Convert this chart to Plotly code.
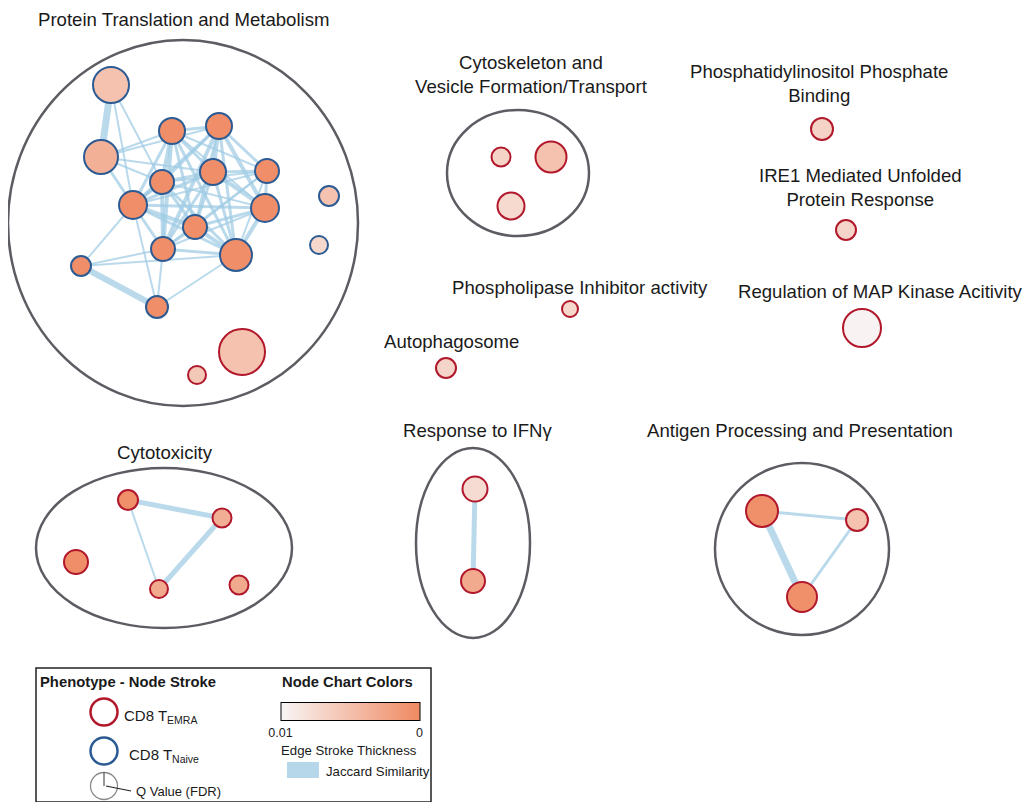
import plotly.graph_objects as go

FONT = "Liberation Sans, Arial, sans-serif"
EDGE_COLOR = "rgba(160,204,228,0.72)"
RED = "#b2182b"
BLUE = "#2c5b94"
OUTLINE = "#5e5c63"
PAGE_MARGIN = 8  # default body margin of the html page
W, H = 1030, 810

# ---------------- data ----------------
node_ids = ["A", "B", "C", "D", "E", "F", "G", "H", "I", "J", "K", "L", "M", "N", "O", "P", "Q", "R",
            "CS1", "CS2", "CS3", "PIP", "IRE1", "MAPK", "PLI", "AUTO",
            "CT1", "CT2", "CT3", "CT4", "CT5", "IF1", "IF2", "AG1", "AG2", "AG3"]
node_x = [111, 101, 172, 219, 162, 213, 267, 133, 265, 195, 163, 236, 81, 157, 329, 319, 242, 197,
          501, 551, 511, 822, 846, 862, 570, 446,
          128, 222, 76, 159, 239, 475, 473, 762, 857, 802]
node_y = [85, 157, 131, 126, 182, 172, 171, 205, 208, 227, 249, 255, 266, 307, 196, 245, 352, 375,
          157, 157, 206, 129, 230, 328, 309, 368,
          500, 518, 562, 589, 585, 489, 581, 511, 520, 597]
node_size = [36, 34, 26, 26, 24, 26, 24, 28, 28, 24, 24, 32, 20, 22, 20, 18, 46, 18,
             19, 31, 27, 22, 20, 38, 16, 20,
             20, 19, 24, 18, 19, 25, 24, 32, 22, 30]
node_q = [0.0052, 0.0036, 0.0004, 0.0004, 0.0004, 0.0004, 0.0004, 0.0004, 0.0004, 0.0004, 0.0004, 0.0004,
          0.0004, 0.0004, 0.0052, 0.0072, 0.0052, 0.0058,
          0.0068, 0.0052, 0.0074, 0.0068, 0.0070, 0.0098, 0.0072, 0.0070,
          0.0006, 0.0034, 0.0004, 0.0030, 0.0030, 0.0076, 0.0030, 0.0006, 0.0052, 0.0006]
node_phenotype = ["Naive"] * 16 + ["EMRA"] * 20

edge_src = ["A", "A", "A", "B", "B", "B", "B", "B",
            "C", "C", "C", "C", "C", "C", "C", "C", "C",
            "D", "D", "D", "D", "D", "D", "D", "D",
            "E", "E", "E", "E", "E", "E", "E",
            "F", "F", "F", "F", "F", "F",
            "G", "G", "G", "G", "G",
            "H", "H", "H", "H", "H", "H", "H",
            "I", "I", "I", "J", "J", "K", "K", "K", "M", "M", "N",
            "CT1", "CT1", "CT2", "IF1", "AG1", "AG1", "AG2"]
edge_tgt = ["B", "E", "H", "C", "D", "E", "F", "H",
            "D", "E", "F", "H", "J", "K", "L", "I", "G",
            "F", "E", "G", "I", "H", "K", "J", "L",
            "F", "H", "J", "K", "L", "I", "G",
            "G", "H", "I", "J", "K", "L",
            "I", "H", "J", "L", "K",
            "I", "J", "K", "L", "M", "N", "E",
            "J", "L", "K", "K", "L", "L", "M", "N", "N", "L", "L",
            "CT2", "CT4", "CT4", "IF2", "AG2", "AG3", "AG3"]
edge_w = [7, 2, 2, 2, 2, 2, 2, 3,
          3, 4, 3, 3, 3, 4, 3, 2, 2,
          4, 3, 3, 4, 3, 4, 3, 3,
          3, 3, 3, 4, 3, 2, 2,
          3, 3, 4, 3, 3, 3,
          3, 2, 2, 2, 2,
          3, 4, 3, 3, 2, 2, 3,
          3, 4, 2, 3, 4, 3, 2, 2, 6, 2, 2,
          5, 2, 5, 5, 3, 7, 3]

cluster_cx = [183, 518, 164, 473, 802]
cluster_cy = [223, 173, 548, 543, 549]
cluster_rx = [175, 71, 128, 57, 87]
cluster_ry = [183, 63, 80, 95, 86]

label_text = ["Protein Translation and Metabolism", "Cytoskeleton and<br>Vesicle Formation/Transport",
              "Phosphatidylinositol Phosphate<br>Binding", "IRE1 Mediated Unfolded<br>Protein Response",
              "Phospholipase Inhibitor activity", "Regulation of MAP Kinase Acitivity", "Autophagosome",
              "Response to IFNγ", "Antigen Processing and Presentation", "Cytotoxicity"]
label_x = [183, 531, 819, 860, 580, 880, 451, 478, 800, 165]
label_y = [19, 74, 83, 187, 287, 291, 341, 430, 430, 452]

q_ticks = [0.01, 0]

# ---------------- figure ----------------
fig = go.Figure()
pos = {n: (x, y) for n, x, y in zip(node_ids, node_x, node_y)}

for s, t, w in zip(edge_src, edge_tgt, edge_w):
    fig.add_trace(go.Scatter(x=[pos[s][0], pos[t][0]], y=[pos[s][1], pos[t][1]], mode="lines",
                             line=dict(color=EDGE_COLOR, width=w), hoverinfo="skip", showlegend=False))

for cx, cy, rx, ry in zip(cluster_cx, cluster_cy, cluster_rx, cluster_ry):
    fig.add_shape(type="circle", xref="x", yref="y", x0=cx - rx, x1=cx + rx, y0=cy - ry, y1=cy + ry,
                  line=dict(color=OUTLINE, width=2.5), layer="below")

fig_w = W - 2 * PAGE_MARGIN
fig_h = H - 2 * PAGE_MARGIN
cb_x = (350 - PAGE_MARGIN) / fig_w
cb_y = 1 - (719 - PAGE_MARGIN) / fig_h

stroke = [RED if p == "EMRA" else BLUE for p in node_phenotype]
fig.add_trace(go.Scatter(
    x=node_x, y=node_y, mode="markers", text=node_ids, showlegend=False,
    marker=dict(size=node_size, opacity=1, color=[-q for q in node_q], cmin=-0.01, cmax=0,
                colorscale=[[0, "#f8f5f5"], [1, "#ef8a62"]],
                line=dict(color=stroke, width=2),
                showscale=True,
                colorbar=dict(orientation="h", x=cb_x, xanchor="center", y=cb_y, yanchor="middle",
                              len=139, lenmode="pixels", thickness=18, thicknessmode="pixels",
                              outlinecolor="black", outlinewidth=1, xpad=0, ypad=0,
                              tickvals=[-v for v in q_ticks], ticktext=[str(v) for v in q_ticks],
                              ticks="", tickfont=dict(family=FONT, size=12.5, color="#222")))))

for t, x, y in zip(label_text, label_x, label_y):
    fig.add_annotation(x=x, y=y, text=t, showarrow=False, xanchor="center", yanchor="middle",
                       font=dict(family=FONT, size=18.6, color="#1a1a1a"))

# ---------------- legend ----------------
fig.add_shape(type="rect", xref="x", yref="y", x0=36, x1=431, y0=668, y1=802, line=dict(color="#222", width=1.5))
leg_x = [104, 104, 104]
leg_y = [712, 751, 786]
leg_stroke = [RED, BLUE, "#8a8a8a"]
fig.add_trace(go.Scatter(x=leg_x, y=leg_y, mode="markers", showlegend=False, hoverinfo="skip",
                         marker=dict(size=[27, 27, 27], opacity=1, color="white",
                                     line=dict(color=leg_stroke, width=[2.5, 2.5, 1.3]))))
fig.add_shape(type="line", xref="x", yref="y", x0=104, x1=104, y0=772, y1=786, line=dict(color="#555", width=1.2))
fig.add_shape(type="line", xref="x", yref="y", x0=106, x1=131, y0=786, y1=791, line=dict(color="#222", width=1.2))
fig.add_shape(type="rect", xref="x", yref="y", x0=287, x1=319, y0=762, y1=778, fillcolor="#b6d6ea", line=dict(width=0))

legend_texts = [("<b>Phenotype - Node Stroke</b>", 128, 682, 14.8, "center"),
                ("<b>Node Chart Colors</b>", 347, 682, 14.8, "center"),
                ("CD8 T<sub>EMRA</sub>", 122, 716, 15, "left"),
                ("CD8 T<sub>Naive</sub>", 127, 755, 15, "left"),
                ("Q Value (FDR)", 134, 791, 13, "left"),
                ("Edge Stroke Thickness", 349, 750, 13.2, "center"),
                ("Jaccard Similarity", 324, 771, 13.2, "left")]
for t, x, y, s, anc in legend_texts:
    fig.add_annotation(x=x, y=y, text=t, showarrow=False, xanchor=anc, yanchor="middle",
                       font=dict(family=FONT, size=s, color="#1a1a1a"))

fig.update_xaxes(range=[PAGE_MARGIN, W - PAGE_MARGIN], visible=False, fixedrange=True)
fig.update_yaxes(range=[H - PAGE_MARGIN, PAGE_MARGIN], visible=False, fixedrange=True)
fig.update_layout(width=fig_w, height=fig_h, margin=dict(l=0, r=0, t=0, b=0, autoexpand=False),
                  plot_bgcolor="white", paper_bgcolor="white")
fig.write_html("out.html")
